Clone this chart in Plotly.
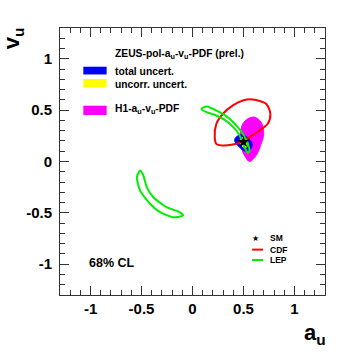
import plotly.graph_objects as go

# axis ticks
tick_vals = [-1, -0.5, 0, 0.5, 1]
tick_text = ["-1", "-0.5", "0", "0.5", "1"]

# H1 a_u-v_u-PDF contour (filled, magenta)
h1_a = [0.608, 0.673, 0.699, 0.673, 0.624, 0.559, 0.52, 0.478, 0.468, 0.494, 0.543, 0.608]
h1_v = [0.432, 0.383, 0.27, 0.172, 0.058, 0.0, 0.042, 0.139, 0.27, 0.367, 0.416, 0.432]

# ZEUS total uncertainty (blue)
zt_a = [0.413, 0.435, 0.488, 0.543, 0.585, 0.566, 0.52, 0.461, 0.413]
zt_v = [0.205, 0.244, 0.26, 0.231, 0.172, 0.117, 0.1, 0.139, 0.205]

# ZEUS uncorrelated uncertainty (yellow)
zu_a = [0.468, 0.494, 0.533, 0.543, 0.52, 0.488, 0.468]
zu_v = [0.211, 0.231, 0.211, 0.166, 0.133, 0.149, 0.211]

# CDF 68% contour
cdf_a = [0.591, 0.722, 0.764, 0.738, 0.657, 0.559, 0.478, 0.396, 0.299, 0.234, 0.218,
         0.234, 0.299, 0.396, 0.494, 0.591]
cdf_v = [0.604, 0.562, 0.465, 0.367, 0.302, 0.237, 0.188, 0.166, 0.156, 0.172, 0.237,
         0.367, 0.465, 0.546, 0.594, 0.604]

# LEP 68% contours (two islands)
lep1_a = [0.088, 0.136, 0.266, 0.364, 0.429, 0.494, 0.543, 0.559, 0.543, 0.51, 0.478,
          0.429, 0.348, 0.234, 0.137, 0.088]
lep1_v = [0.513, 0.536, 0.48, 0.416, 0.351, 0.27, 0.172, 0.107, 0.081, 0.14, 0.221,
          0.302, 0.383, 0.448, 0.48, 0.513]
lep2_a = [-0.514, -0.546, -0.514, -0.417, -0.319, -0.19, -0.092, -0.124, -0.254,
          -0.384, -0.449, -0.482, -0.514]
lep2_v = [-0.088, -0.153, -0.283, -0.412, -0.494, -0.543, -0.526, -0.494, -0.445,
          -0.348, -0.25, -0.136, -0.088]

# Standard Model point
sm_a = [0.5]
sm_v = [0.19]

FONT = "Liberation Sans"

fig = go.Figure()

fig.add_trace(go.Scatter(x=h1_a, y=h1_v, mode="lines", fill="toself", line_shape="spline",
                         fillcolor="#ff00ff", line=dict(color="#ff00ff", width=1)))
fig.add_trace(go.Scatter(x=zt_a, y=zt_v, mode="lines", fill="toself", line_shape="spline",
                         fillcolor="#0000ff", line=dict(color="#0000ff", width=1)))
fig.add_trace(go.Scatter(x=zu_a, y=zu_v, mode="lines", fill="toself", line_shape="spline",
                         fillcolor="#ffff00", line=dict(color="#ffff00", width=1)))
fig.add_trace(go.Scatter(x=cdf_a, y=cdf_v, mode="lines", line_shape="spline",
                         line=dict(color="#ff0000", width=2, smoothing=0.8)))
fig.add_trace(go.Scatter(x=lep1_a, y=lep1_v, mode="lines", line_shape="spline",
                         line=dict(color="#00ee00", width=2, smoothing=0.6)))
fig.add_trace(go.Scatter(x=lep2_a, y=lep2_v, mode="lines", line_shape="spline",
                         line=dict(color="#00ee00", width=2, smoothing=0.6)))
fig.add_trace(go.Scatter(x=sm_a, y=sm_v, mode="markers",
                         marker=dict(symbol="star", size=9, color="black")))

axis = dict(
    range=[-1.3, 1.3],
    tickmode="array",
    tickvals=tick_vals,
    ticktext=tick_text,
    ticks="inside",
    ticklen=9,
    tickcolor="#333",
    minor=dict(tickmode="linear", tick0=0, dtick=0.1, ticks="inside", ticklen=5, tickcolor="#333"),
    showline=True,
    linecolor="#333",
    linewidth=1,
    mirror="ticks",
    showgrid=False,
    zeroline=False,
    tickfont=dict(family=FONT, size=15, color="black", weight="bold"),
)

fig.update_layout(
    width=354,
    height=356,
    margin=dict(l=60, r=29, t=28, b=61),
    paper_bgcolor="white",
    plot_bgcolor="white",
    showlegend=False,
    xaxis=dict(axis, ticklabelstandoff=0),
    yaxis=dict(axis, ticklabelstandoff=4),
)

shapes = [
    dict(type="rect", xref="paper", yref="paper", x0=0.088, x1=0.176, y0=0.826, y1=0.855,
         fillcolor="#0000ff", line_width=0),
    dict(type="rect", xref="paper", yref="paper", x0=0.088, x1=0.176, y0=0.777, y1=0.809,
         fillcolor="#ffff00", line_width=0),
    dict(type="rect", xref="paper", yref="paper", x0=0.088, x1=0.176, y0=0.674, y1=0.709,
         fillcolor="#ff00ff", line_width=0),
    dict(type="line", xref="paper", yref="paper", x0=0.725, x1=0.766, y0=0.170, y1=0.170,
         line=dict(color="#ff0000", width=2)),
    dict(type="line", xref="paper", yref="paper", x0=0.725, x1=0.766, y0=0.131, y1=0.131,
         line=dict(color="#00ee00", width=2)),
]
fig.update_layout(shapes=shapes)


def note(text, x, y, size, xanchor="left", angle=0, family=FONT):
    fig.add_annotation(text=text, x=x, y=y, xref="paper", yref="paper", showarrow=False,
                       xanchor=xanchor, yanchor="middle", textangle=angle,
                       font=dict(family=family, size=size, color="black", weight="bold"))


note("ZEUS-pol-a<sub>u</sub>-v<sub>u</sub>-PDF (prel.)", 0.200, 0.899, 10.3)
note("total uncert.", 0.200, 0.836, 10.3)
note("uncorr. uncert.", 0.200, 0.790, 10.3)
note("H1-a<sub>u</sub>-v<sub>u</sub>-PDF", 0.200, 0.693, 10.3)
note("★", 0.736, 0.213, 8, xanchor="center", family="DejaVu Sans")
note("SM", 0.785, 0.213, 8.5)
note("CDF", 0.785, 0.170, 8.5)
note("LEP", 0.785, 0.131, 8.5)
note("68% CL", 0.100, 0.119, 12.5)
note("a<sub>u</sub>", 0.962, -0.146, 22, xanchor="center")
note("v<sub>u</sub>", -0.177, 0.962, 22, xanchor="center", angle=-90)

fig.write_html("out.html", config={"displayModeBar": False},
               post_script="document.body.style.margin='0';")
